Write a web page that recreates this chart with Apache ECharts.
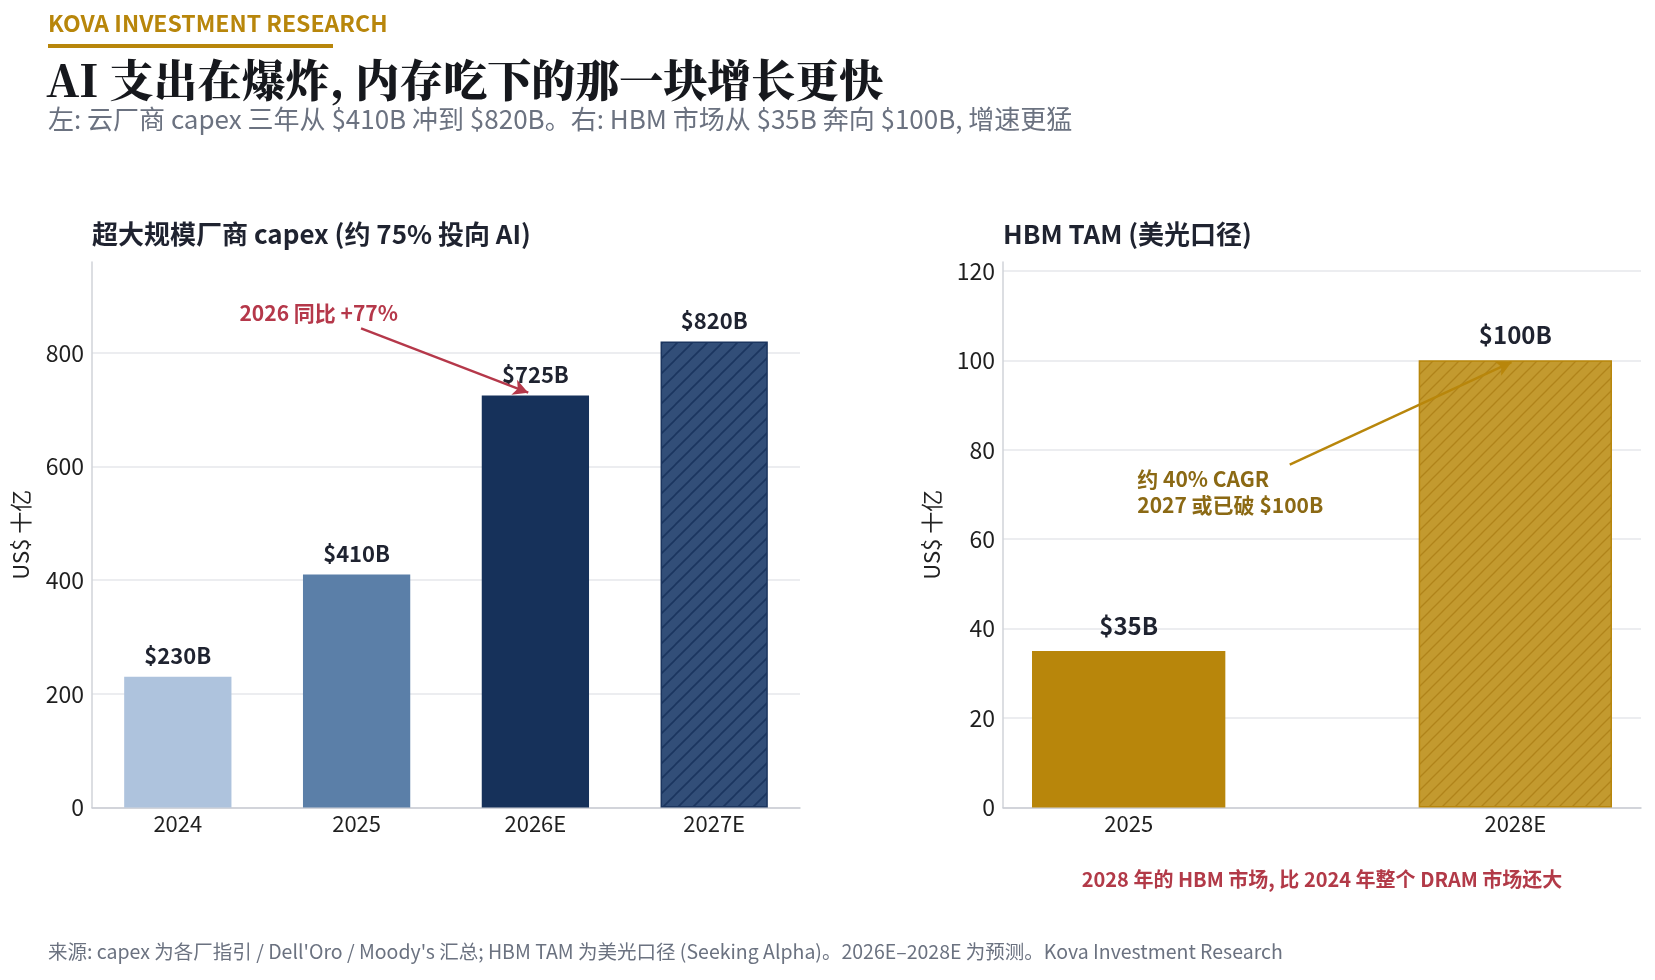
<!DOCTYPE html>
<html>
<head>
<meta charset="utf-8">
<script src="https://cdn.jsdelivr.net/npm/echarts@6/dist/echarts.min.js"></script>
<style>
  html, body { margin: 0; padding: 0; background: #fff; }
  #main { width: 1655px; height: 980px; }
</style>
</head>
<body>
<div id="main"></div>
<script>
// data
var capexYears = ['2024', '2025', '2026E', '2027E']
var capexValues = [230, 410, 725, 820]
var capexLabels = ['$230B', '$410B', '$725B', '$820B']
var capexTicks = [0, 200, 400, 600, 800]

var hbmYears = ['2025', '2028E']
var hbmValues = [35, 100]
var hbmLabels = ['$35B', '$100B']
var hbmTicks = [0, 20, 40, 60, 80, 100, 120]

var FONT = '"Noto Sans CJK SC", "Noto Sans", sans-serif'
var SERIF = '"Noto Serif CJK SC", "Noto Sans CJK SC", serif'

// diagonal hatch tile for the forecast bars
function hatch(bg, line, step, lw) {
  var c = document.createElement('canvas')
  c.width = step
  c.height = step
  var g = c.getContext('2d')
  g.fillStyle = bg
  g.fillRect(0, 0, step, step)
  g.strokeStyle = line
  g.lineWidth = lw
  g.beginPath()
  g.moveTo(0, step); g.lineTo(step, 0)
  g.moveTo(-step / 2, step / 2); g.lineTo(step / 2, -step / 2)
  g.moveTo(step / 2, step * 1.5); g.lineTo(step * 1.5, step / 2)
  g.stroke()
  return { image: c, repeat: 'repeat' }
}

var capexColors = ['#aec3dd', '#5b7fa8', '#16315a', hatch('#324e78', '#1b355f', 15, 1.6)]
var capexEdges = [null, null, null, '#1b355f']
var hbmColors = ['#b8860b', hatch('#c39a2f', '#b0831a', 13, 1.3)]
var hbmEdges = [null, '#b8860b']

// grid geometry
var L = { idx: 0, left: 92, top: 262, width: 708, height: 545.5, xmin: -0.48, xmax: 3.48 }
var R = { idx: 1, left: 1003, top: 262, width: 638, height: 545.5, xmin: -0.325, xmax: 1.325 }
var capexBarW = L.width / (L.xmax - L.xmin) * 0.6
var hbmBarW = R.width / (R.xmax - R.xmin) * 0.5

function yAxisCommon(grid, max, interval) {
  return {
    type: 'value',
    gridIndex: grid.idx,
    min: 0,
    max: max,
    interval: interval,
    name: 'US$ 十亿',
    nameLocation: 'middle',
    nameGap: 60,
    nameTextStyle: { fontSize: 22, color: '#222', fontFamily: FONT },
    axisLine: { show: true, onZero: false, lineStyle: { color: '#d0d3d9', width: 1.5 } },
    axisTick: { show: false },
    axisLabel: { fontSize: 23, color: '#1f1f1f', margin: 8, fontFamily: FONT, showMaxLabel: false },
    splitLine: { show: true, showMaxLine: false, lineStyle: { color: '#e6e7eb', width: 1.5 } }
  }
}

function xAxisCommon(grid, cats, ticks) {
  return {
    type: 'value',
    gridIndex: grid.idx,
    min: grid.xmin,
    max: grid.xmax,
    axisLine: { show: true, onZero: false, lineStyle: { color: '#c9ccd2', width: 1.5 } },
    axisTick: { show: false },
    splitLine: { show: false },
    axisLabel: {
      customValues: ticks,
      fontSize: 22, color: '#1f1f1f', margin: 5, fontFamily: FONT,
      formatter: function (v) { return cats[Math.round(v)] }
    }
  }
}

var chart = echarts.init(document.getElementById('main'), null, { renderer: 'canvas' })

var option = {
  backgroundColor: '#fff',
  animation: false,
  textStyle: { fontFamily: FONT },
  title: [
    { text: 'KOVA INVESTMENT RESEARCH', left: 48, top: 12, padding: 0,
      textStyle: { fontSize: 23, fontWeight: 'bold', color: '#b8860b', fontFamily: FONT } },
    { text: 'AI 支出在爆炸, 内存吃下的那一块增长更快', left: 46, top: 58, padding: 0,
      textStyle: { fontSize: 44, fontWeight: 900, color: '#16181d', fontFamily: SERIF } },
    { text: '左: 云厂商 capex 三年从 $410B 冲到 $820B。右: HBM 市场从 $35B 奔向 $100B, 增速更猛', left: 48, top: 106, padding: 0,
      textStyle: { fontSize: 26, fontWeight: 'normal', color: '#6b7280', fontFamily: FONT } },
    { text: '超大规模厂商 capex (约 75% 投向 AI)', left: 92, top: 221, padding: 0,
      textStyle: { fontSize: 26, fontWeight: 'bold', color: '#1f2330', fontFamily: FONT } },
    { text: 'HBM TAM (美光口径)', left: 1003, top: 221, padding: 0,
      textStyle: { fontSize: 26, fontWeight: 'bold', color: '#1f2330', fontFamily: FONT } },
    { text: '2028 年的 HBM 市场, 比 2024 年整个 DRAM 市场还大', left: 1322, top: 869, padding: 0, textAlign: 'center',
      textStyle: { fontSize: 20, fontWeight: 'bold', color: '#b23a48', fontFamily: FONT } },
    { text: '来源: capex 为各厂指引 / Dell\'Oro / Moody\'s 汇总; HBM TAM 为美光口径 (Seeking Alpha)。2026E–2028E 为预测。Kova Investment Research', left: 48, top: 942, padding: 0,
      textStyle: { fontSize: 19.5, fontWeight: 'normal', color: '#6b7280', fontFamily: FONT } }
  ],
  graphic: [
    { type: 'rect', left: 48, top: 44, shape: { width: 285, height: 4 }, style: { fill: '#b8860b' } }
  ],
  grid: [
    { left: L.left, top: L.top, width: L.width, height: L.height, containLabel: false },
    { left: R.left, top: R.top, width: R.width, height: R.height, containLabel: false }
  ],
  xAxis: [
    xAxisCommon(L, capexYears, [0, 1, 2, 3]),
    xAxisCommon(R, hbmYears, [0, 1])
  ],
  yAxis: [
    yAxisCommon(L, 960, 200),
    yAxisCommon(R, 122, 20)
  ],
  series: [
    {
      type: 'bar',
      xAxisIndex: 0,
      yAxisIndex: 0,
      barWidth: capexBarW,
      data: capexValues.map(function (v, i) {
        return {
          value: [i, v],
          itemStyle: {
            color: capexColors[i],
            borderColor: capexEdges[i] || 'transparent',
            borderWidth: capexEdges[i] ? 1.5 : 0
          }
        }
      }),
      label: {
        show: true,
        position: 'top',
        distance: 10,
        fontSize: 22,
        fontWeight: 'bold',
        color: '#1f2330',
        fontFamily: FONT,
        formatter: function (p) { return capexLabels[p.dataIndex] }
      },
      markLine: {
        silent: true,
        symbol: ['none', 'arrow'],
        symbolSize: [12, 15],
        lineStyle: { color: '#b5384a', width: 2.4, type: 'solid' },
        label: { show: false },
        data: [[{ coord: [1.025, 843] }, { coord: [1.96, 730] }]]
      },
      markPoint: {
        silent: true,
        symbol: 'circle',
        symbolSize: 1,
        itemStyle: { color: 'rgba(0,0,0,0)' },
        label: {
          show: true, position: 'inside',
          fontSize: 21, fontWeight: 'bold', color: '#b5384a', fontFamily: FONT,
          formatter: '2026 同比 +77%'
        },
        data: [{ coord: [0.788, 870] }]
      },
      z: 2
    },
    {
      type: 'bar',
      xAxisIndex: 1,
      yAxisIndex: 1,
      barWidth: hbmBarW,
      data: hbmValues.map(function (v, i) {
        return {
          value: [i, v],
          itemStyle: {
            color: hbmColors[i],
            borderColor: hbmEdges[i] || 'transparent',
            borderWidth: hbmEdges[i] ? 1.5 : 0
          }
        }
      }),
      label: {
        show: true,
        position: 'top',
        distance: 13,
        fontSize: 24,
        fontWeight: 'bold',
        color: '#1f2330',
        fontFamily: FONT,
        formatter: function (p) { return hbmLabels[p.dataIndex] }
      },
      markLine: {
        silent: true,
        symbol: ['none', 'arrow'],
        symbolSize: [12, 15],
        lineStyle: { color: '#b8860b', width: 2.4, type: 'solid' },
        label: { show: false },
        data: [[{ coord: [0.4166, 76.7] }, { coord: [0.99, 99.6] }]]
      },
      markPoint: {
        silent: true,
        symbol: 'circle',
        symbolSize: 1,
        itemStyle: { color: 'rgba(0,0,0,0)' },
        label: {
          show: true, position: 'right', distance: 0, align: 'left',
          fontSize: 21, fontWeight: 'bold', color: '#8b6914', fontFamily: FONT, lineHeight: 26,
          formatter: '约 40% CAGR\n2027 或已破 $100B'
        },
        data: [{ coord: [0.021, 70.6] }]
      },
      z: 2
    }
  ]
}

chart.setOption(option)
</script>
</body>
</html>
